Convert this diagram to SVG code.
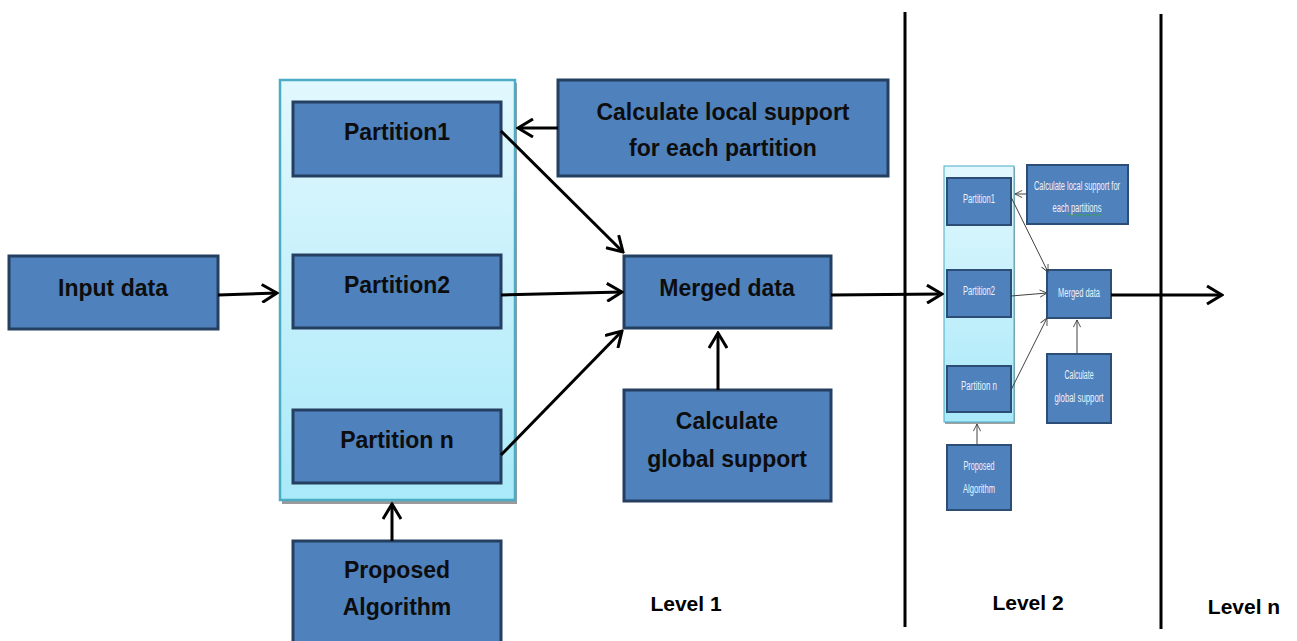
<svg xmlns="http://www.w3.org/2000/svg" width="1297" height="641" viewBox="0 0 1297 641">
<style>
.box{fill:#4f81bd;stroke:#243f60;stroke-width:3}
.sbox{fill:#4f81bd;stroke:#2c4d75;stroke-width:2}
.t{font-family:"Liberation Sans",Arial,sans-serif;font-weight:bold;font-size:23px;fill:#0d0d0d;text-anchor:middle}
.lv{font-family:"Liberation Sans",Arial,sans-serif;font-weight:bold;font-size:21px;fill:#000;text-anchor:middle}
.st{font-family:"Liberation Sans Narrow","Liberation Sans",Arial,sans-serif;font-size:12px;fill:#eef2fa;text-anchor:middle}
.c{stroke:#000;stroke-width:3;fill:none;marker-end:url(#ah)}
.sc{stroke:#404040;stroke-width:1;fill:none;marker-end:url(#sah)}
.vl{stroke:#000;stroke-width:3}
</style>
<defs>
<linearGradient id="cg" x1="0" y1="0" x2="0" y2="1">
<stop offset="0" stop-color="#e2f8fe"/>
<stop offset="1" stop-color="#a9e9f9"/>
</linearGradient>
<marker id="ah" viewBox="0 0 20 20" refX="18" refY="10" markerWidth="20" markerHeight="20" orient="auto" markerUnits="userSpaceOnUse">
<path d="M3,1 L18,10 L3,19" fill="none" stroke="#000" stroke-width="3"/>
</marker>
<marker id="sah" viewBox="0 0 10 10" refX="9" refY="5" markerWidth="9" markerHeight="9" orient="auto" markerUnits="userSpaceOnUse">
<path d="M1,1 L9,5 L1,9" fill="none" stroke="#404040" stroke-width="1"/>
</marker>
</defs>

<!-- Level separators -->
<g id="separators">
<line class="vl" x1="905" y1="12" x2="905" y2="627"/>
<line class="vl" x1="1161" y1="14" x2="1161" y2="629"/>
</g>

<!-- Level 1 -->
<g id="container1">
<rect x="282" y="83" width="235" height="421" fill="#9a9a9a"/>
<rect x="280" y="80" width="235" height="420" fill="url(#cg)" stroke="#4bacc6" stroke-width="2.5"/>
</g>
<g id="partition1"><rect class="box" x="293" y="102" width="208" height="74"/><text class="t" x="397" y="140">Partition1</text></g>
<g id="partition2"><rect class="box" x="293" y="255" width="208" height="73"/><text class="t" x="397" y="293">Partition2</text></g>
<g id="partitionn"><rect class="box" x="293" y="410" width="208" height="73"/><text class="t" x="397" y="448">Partition n</text></g>
<g id="input"><rect class="box" x="9" y="256" width="209" height="73"/><text class="t" x="113" y="296">Input data</text></g>
<g id="proposed"><rect class="box" x="293" y="541" width="208" height="104"/><text class="t" x="397" y="578">Proposed</text><text class="t" x="397" y="615">Algorithm</text></g>
<g id="localsupport"><rect class="box" x="558" y="80" width="330" height="96"/><text class="t" x="723" y="120">Calculate local support</text><text class="t" x="723" y="156">for each partition</text></g>
<g id="merged"><rect class="box" x="624" y="256" width="207" height="72"/><text class="t" x="727" y="296">Merged data</text></g>
<g id="globalsupport"><rect class="box" x="624" y="390" width="207" height="111"/><text class="t" x="727" y="429">Calculate</text><text class="t" x="727" y="467">global support</text></g>
<g id="labels">
<text class="lv" x="686" y="611">Level 1</text>
<text class="lv" x="1028" y="610">Level 2</text>
<text class="lv" x="1244" y="614">Level n</text>
</g>

<!-- Level 2 (small copy) -->
<g id="container2">
<rect x="945" y="167" width="70" height="257" fill="#a0a0a0"/>
<rect x="944" y="166" width="70" height="256" fill="url(#cg)" stroke="#4bacc6" stroke-width="1"/>
</g>
<g id="s-partition1"><rect class="sbox" x="947" y="178" width="64" height="47"/><text class="st" x="979" y="203" textLength="32" lengthAdjust="spacingAndGlyphs">Partition1</text></g>
<g id="s-partition2"><rect class="sbox" x="947" y="270" width="64" height="47"/><text class="st" x="979" y="295" textLength="32" lengthAdjust="spacingAndGlyphs">Partition2</text></g>
<g id="s-partitionn"><rect class="sbox" x="947" y="366" width="64" height="46"/><text class="st" x="979" y="390" textLength="36" lengthAdjust="spacingAndGlyphs">Partition n</text></g>
<g id="s-localsupport"><rect class="sbox" x="1027" y="165" width="101" height="59"/><text class="st" x="1077" y="190" textLength="86" lengthAdjust="spacingAndGlyphs">Calculate  local support for</text><text class="st" x="1077" y="212" textLength="49" lengthAdjust="spacingAndGlyphs">each partitions</text><path d="M1068,215 q1.5,-1.5 3,0 t3,0 t3,0 t3,0 t3,0 t3,0 t3,0 t3,0 t3,0 t3,0 t3,0" fill="none" stroke="#3aa83a" stroke-width="0.8"/></g>
<g id="s-merged"><rect class="sbox" x="1047" y="270" width="64" height="48"/><text class="st" x="1079" y="297" textLength="42" lengthAdjust="spacingAndGlyphs">Merged data</text></g>
<g id="s-globalsupport"><rect class="sbox" x="1047" y="354" width="64" height="69"/><text class="st" x="1079" y="379" textLength="29" lengthAdjust="spacingAndGlyphs">Calculate</text><text class="st" x="1079" y="402" textLength="49" lengthAdjust="spacingAndGlyphs">global support</text></g>
<g id="s-proposed"><rect class="sbox" x="947" y="445" width="64" height="65"/><text class="st" x="979" y="470" textLength="31" lengthAdjust="spacingAndGlyphs">Proposed</text><text class="st" x="979" y="493" textLength="32" lengthAdjust="spacingAndGlyphs">Algorithm</text></g>

<!-- Connectors -->
<g id="connectors">
<line class="c" x1="218" y1="295" x2="277" y2="293"/>
<line class="c" x1="558" y1="128" x2="518" y2="128"/>
<line class="c" x1="501" y1="131" x2="623" y2="252"/>
<line class="c" x1="501" y1="295" x2="622" y2="292"/>
<line class="c" x1="501" y1="455" x2="622" y2="331"/>
<line class="c" x1="718" y1="390" x2="718" y2="333"/>
<line class="c" x1="392" y1="541" x2="392" y2="504"/>
<line class="c" x1="831" y1="295" x2="942" y2="294"/>
<line class="c" x1="1111" y1="295" x2="1222" y2="295"/>
<line class="sc" x1="1027" y1="194" x2="1015" y2="194"/>
<line class="sc" x1="1011" y1="197" x2="1048" y2="272"/>
<line class="sc" x1="1011" y1="296" x2="1047" y2="293"/>
<line class="sc" x1="1011" y1="390" x2="1047" y2="318"/>
<line class="sc" x1="1077" y1="353" x2="1077" y2="320"/>
<line class="sc" x1="977" y1="445" x2="977" y2="424"/>
</g>
</svg>
